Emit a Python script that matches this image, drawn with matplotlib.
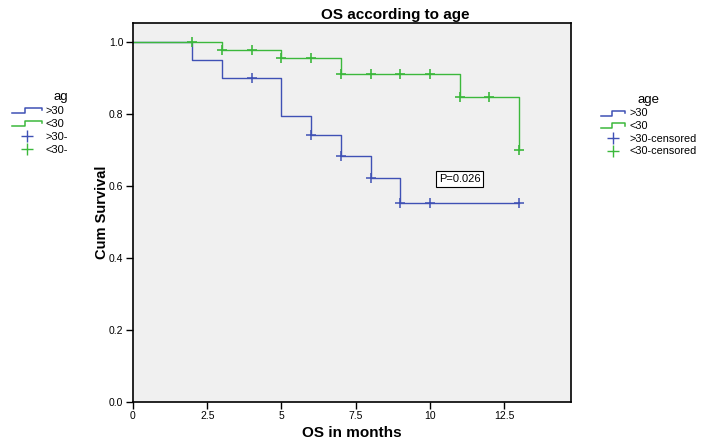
import matplotlib
matplotlib.use("Agg")
import matplotlib.pyplot as plt
from matplotlib.lines import Line2D
from matplotlib.legend_handler import HandlerBase

plt.rcParams['font.family'] = ['Liberation Sans', 'DejaVu Sans']

# ---- data ----
blue_event_times = [0, 2, 3, 5, 6, 7, 8, 9, 13]
blue_surv = [1.0, 0.951, 0.900, 0.794, 0.741, 0.684, 0.622, 0.554, 0.554]
blue_cens_t = [4, 6, 7, 8, 9, 10, 13]
blue_cens_s = [0.900, 0.741, 0.684, 0.622, 0.554, 0.554, 0.554]

green_event_times = [0, 3, 5, 7, 11, 13]
green_surv = [1.0, 0.979, 0.956, 0.910, 0.847, 0.699]
green_cens_t = [2, 3, 4, 5, 6, 7, 8, 9, 10, 11, 12, 13]
green_cens_s = [1.0, 0.979, 0.979, 0.956, 0.956, 0.910, 0.910, 0.910, 0.910, 0.847, 0.847, 0.699]

legend_labels = [">30", "<30", ">30-censored", "<30-censored"]
left_labels = [">30", "<30", ">30-", "<30-"]
xticks = [0, 2.5, 5, 7.5, 10, 12.5]
xticklabels = ["0", "2.5", "5", "7.5", "10", "12.5"]
yticks = [0.0, 0.2, 0.4, 0.6, 0.8, 1.0]

BLUE = '#3f51b5'
GREEN = '#3cb83c'


class StepHandler(HandlerBase):
    def create_artists(self, legend, orig_handle, xdescent, ydescent, width, height, fontsize, trans):
        c = orig_handle.get_color()
        w, h = width, height
        xs = [0, w * 0.45, w * 0.45, w, w]
        ys = [h * 0.1, h * 0.1, h * 0.75, h * 0.75, h * 0.45]
        ln = Line2D([x - xdescent for x in xs], [y - ydescent for y in ys], color=c, lw=1.1, transform=trans)
        return [ln]


fig = plt.figure(figsize=(7.09, 4.40), dpi=100)
ax = fig.add_axes([133 / 709, 1 - 402 / 440, (571 - 133) / 709, (402 - 23) / 440])
ax.set_facecolor('#f0f0f0')

ax.step(blue_event_times, blue_surv, where='post', color=BLUE, lw=1.0)
ax.step(green_event_times, green_surv, where='post', color=GREEN, lw=1.0)
ax.plot(blue_cens_t, blue_cens_s, '+', color=BLUE, ms=7, mew=1.1)
ax.plot(green_cens_t, green_cens_s, '+', color=GREEN, ms=7, mew=1.2)

ax.set_xlim(0, 14.75)
ax.set_ylim(0, 1.053)
ax.set_xticks(xticks)
ax.set_xticklabels(xticklabels)
ax.set_yticks(yticks)
ax.set_yticklabels([f"{v:.1f}" for v in yticks])
ax.tick_params(axis='both', labelsize=7.5, length=5, width=1, color='black')
ax.tick_params(axis='x', pad=1.5)
ax.tick_params(axis='y', pad=2)
for s in ax.spines.values():
    s.set_linewidth(1.2)
    s.set_color('black')

ax.set_xlabel("OS in months", fontsize=11, fontweight='bold', labelpad=3.5)
ax.set_ylabel("Cum Survival", fontsize=10.5, fontweight='bold', labelpad=0)
fig.text(395 / 709, 1 - 15 / 440, "OS according to age", fontsize=11, fontweight='bold',
         ha='center', va='center')

ax.text(11.0, 0.62, "P=0.026", fontsize=8, ha='center', va='center',
        bbox=dict(boxstyle='square,pad=0.25', fc='white', ec='black', lw=0.8))

handles = [Line2D([], [], color=BLUE), Line2D([], [], color=GREEN),
           Line2D([], [], color=BLUE, marker='+', ls='none', ms=8, mew=1.0),
           Line2D([], [], color=GREEN, marker='+', ls='none', ms=8, mew=1.0)]
hmap = {handles[0]: StepHandler(), handles[1]: StepHandler()}

leg = fig.legend(handles, legend_labels, handler_map=hmap, title="age",
                 loc='upper left', bbox_to_anchor=(593 / 709, 1 - 86 / 440),
                 frameon=False, fontsize=7.8, title_fontsize=9.5,
                 handlelength=2.3, handletextpad=0.4, labelspacing=0.25, borderpad=0.2)

leg2 = fig.legend(handles, left_labels, handler_map=hmap, title="ag",
                  loc='upper left', bbox_to_anchor=(4 / 709, 1 - 83 / 440),
                  frameon=False, fontsize=8, title_fontsize=9.5, alignment='right',
                  handlelength=2.7, handletextpad=0.35, labelspacing=0.28, borderpad=0.2)

fig.savefig("out.png", dpi=100, facecolor='white')
